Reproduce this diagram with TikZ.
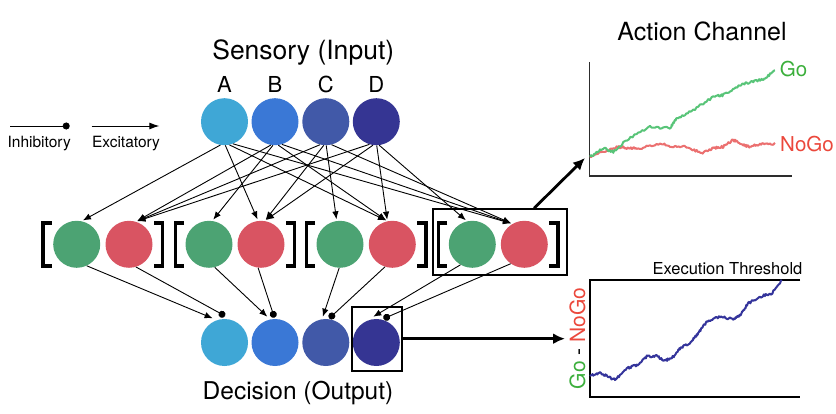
\documentclass[tikz,border=0pt]{standalone}
\usepackage{fontspec}
\setmainfont{TeX Gyre Heros}
\usetikzlibrary{arrows.meta,calc}
\definecolor{cA}{RGB}{63,167,214}
\definecolor{cB}{RGB}{58,120,214}
\definecolor{cC}{RGB}{65,89,168}
\definecolor{cD}{RGB}{53,53,147}
\definecolor{cgo}{RGB}{76,163,115}
\definecolor{cnogo}{RGB}{217,84,98}
\definecolor{trgo}{RGB}{88,196,120}
\definecolor{trnogo}{RGB}{235,112,112}
\definecolor{txgo}{RGB}{60,175,60}
\definecolor{txnogo}{RGB}{235,72,60}
\definecolor{trblue}{RGB}{52,52,155}
\definecolor{axcol}{RGB}{45,45,45}
\newcommand\mktrace[4]{%
  \xdef#1{(#2,#3)}%
  \foreach \xa/\ya [remember=\xa as \xp (initially #2),remember=\ya as \yp (initially #3)] in {#4}{%
    \foreach \k in {1,...,12}{%
      \pgfmathsetmacro\tx{\xp+(\xa-\xp)*\k/12}%
      \pgfmathsetmacro\ty{\yp+(\ya-\yp)*\k/12+1.2*rand}%
      \xdef#1{#1 (\tx,\ty)}%
    }%
  }%
}
\begin{document}
\begin{tikzpicture}[x=1pt,y=-1pt,
  unit/.style={circle,minimum size=47pt,inner sep=0pt,draw=none},
  exc/.style={-{Latex[length=8pt,width=6.5pt]},line width=0.9pt,shorten >=1.5pt},
  inh/.style={-{Circle[length=7pt]},line width=0.9pt,shorten >=-3.5pt},
  bracketline/.style={line width=3.6pt},
  hlbox/.style={draw,line width=2pt,inner sep=0pt},
  bigarrow/.style={-{Latex[length=12pt,width=11pt]},line width=2.8pt},
  lbl/.style={inner sep=0pt},
  axline/.style={draw=axcol,line width=1.6pt},
  gotr/.style={draw=trgo,line width=2pt,line join=round},
  nogotr/.style={draw=trnogo,line width=2pt,line join=round},
  bluetr/.style={draw=trblue,line width=2pt,line join=round},
]
\useasboundingbox (0,0) rectangle (836,414);

% titles
\node[lbl,font=\fontsize{26.5}{30}\selectfont] (tin) at (303.3,52) {Sensory (Input)};
\node[lbl,font=\fontsize{24.5}{28}\selectfont] (tout) at (298,393) {Decision (Output)};
\node[lbl,font=\fontsize{25}{28}\selectfont] (tact) at (702,31) {Action Channel};

% input layer
\node[unit,fill=cA] (A) at (224.5,121.7) {};
\node[unit,fill=cB] (B) at (275,121.7) {};
\node[unit,fill=cC] (C) at (325.8,121.7) {};
\node[unit,fill=cD] (D) at (376.3,121.7) {};
\foreach \n in {A,B,C,D}
  \node[lbl,font=\fontsize{22}{24}\selectfont] (l\n) at ($(\n)+(0,-37)$) {\n};

% middle layer
\node[unit,fill=cgo] (g1) at (76.7,244.3) {};
\node[unit,fill=cnogo] (r1) at (129,244.3) {};
\node[unit,fill=cgo] (g2) at (209,244.3) {};
\node[unit,fill=cnogo] (r2) at (261,244.3) {};
\node[unit,fill=cgo] (g3) at (340,244.3) {};
\node[unit,fill=cnogo] (r3) at (392.3,244.3) {};
\node[unit,fill=cgo] (g4) at (472.3,244.3) {};
\node[unit,fill=cnogo] (r4) at (524.3,244.3) {};

\foreach \k in {1,2,3,4}{
  \draw[bracketline] ($(g\k)+(-25,-21.5)$) -- ($(g\k)+(-33.7,-21.5)$) -- ($(g\k)+(-33.7,21.7)$) -- ($(g\k)+(-25,21.7)$);
  \draw[bracketline] ($(r\k)+(25,-21.5)$) -- ($(r\k)+(33.5,-21.5)$) -- ($(r\k)+(33.5,21.7)$) -- ($(r\k)+(25,21.7)$);
}

% output layer
\node[unit,fill=cA] (o1) at (224.5,342.5) {};
\node[unit,fill=cB] (o2) at (275,342.5) {};
\node[unit,fill=cC] (o3) at (325.8,342.5) {};
\node[unit,fill=cD] (o4) at (376.3,342.5) {};

% highlight boxes
\node[hlbox,minimum width=134pt,minimum height=66pt] (box4) at (499.7,242.2) {};
\node[hlbox,minimum width=50.6pt,minimum height=64pt] (boxo) at (377,338.7) {};

% input -> middle
\draw[exc] (A.260) -- (g1.78);
\draw[exc] (A.272) -- (r2.97);
\draw[exc] (A.282) -- (r3.102);
\draw[exc] (A.291) -- (r4.120);
\draw[exc] (B.260) -- (r1.73);
\draw[exc] (B.265) -- (g2.82);
\draw[exc] (B.278) -- (r3.102);
\draw[exc] (B.287) -- (r4.120);
\draw[exc] (C.256) -- (r1.73);
\draw[exc] (C.265) -- (r2.81);
\draw[exc] (C.271) -- (g3.98);
\draw[exc] (C.284) -- (r4.120);
\draw[exc] (D.253) -- (r1.73);
\draw[exc] (D.262) -- (r2.81);
\draw[exc] (D.271) -- (r3.102);
\draw[exc] (D.277) -- (g4.103);

% middle -> output
\coordinate (o1e) at ($(o1)+(-11.9,-24.2)$);
\coordinate (o1i) at ($(o1)+(-2.5,-28.2)$);
\coordinate (o2e) at ($(o2)+(-7.7,-25.8)$);
\coordinate (o2i) at ($(o2)+(-1.7,-28.2)$);
\coordinate (o3e) at ($(o3)+(-3,-25.8)$);
\coordinate (o3i) at ($(o3)+(6,-26.5)$);
\coordinate (o4e) at ($(o4)+(-3,-25.8)$);
\coordinate (o4i) at ($(o4)+(10.4,-25.2)$);
\draw[exc,shorten >=0pt] (g1.295) -- (o1e);
\draw[inh] (r1.287) -- (o1i);
\draw[exc,shorten >=0pt] (g2.284) -- (o2e);
\draw[inh] (r2.263) -- (o2i);
\draw[exc,shorten >=0pt] (g3.268) -- (o3e);
\draw[inh] (r3.252) -- (o3i);
\draw[exc,shorten >=0pt] (g4.240) -- (o4e);
\draw[inh] (r4.235) -- (o4i);

% legend
\coordinate (ia) at (10,126);
\coordinate (ib) at (66,126);
\coordinate (ea) at (91.7,126);
\coordinate (eb) at (159.3,126);
\draw[inh,shorten >=-3.7pt] (ia) -- (ib);
\draw[-{Latex[length=10pt,width=7pt]},line width=0.9pt] (ea) -- (eb);
\node[lbl,font=\fontsize{15.5}{18}\selectfont] (tinh) at (39.2,143.5) {Inhibitory};
\node[lbl,font=\fontsize{15.5}{18}\selectfont] (texc) at (126,143.5) {Excitatory};

% action channel plot
\coordinate (axtop) at (589.3,62);
\coordinate (axorg) at (589.3,176);
\coordinate (axend) at (792,176);
\draw[axline] (axtop) -- (axorg) -- (axend);
\pgfmathsetseed{11}
\mktrace{\nogolist}{590}{156.7}{603.3/151.7, 616.7/146.7, 630/148.3, 640/148.3, 660/143.3, 673.3/146.7, 686.7/146.7, 701.7/153.3, 713.3/148.3, 723.3/146.7, 733.3/140, 743.3/145, 750/146.7, 763.3/143.3, 775/144}
\mktrace{\golist}{590}{156.7}{603.3/148.3, 613.3/151.7, 626.7/140, 650/126.7, 670/128.3, 676.7/118.3, 693.3/110, 713.3/96.7, 723.3/95, 740/85, 753.3/81.7, 763.3/79.3, 775/70.7}
\mktrace{\bluelist}{590}{376}{600/372.7, 606.7/376, 615/380, 626.7/368.3, 636.7/365, 646.7/356.7, 656.7/356, 665/361, 673.3/356.7, 680/348.3, 690/343.3, 698.3/333.3, 706.7/321.7, 720/316.7, 733.3/319.3, 740/315, 748.3/303.3, 760/296.7, 771.7/293.3, 781.7/280.7}
\edef\mydrawcmd{\noexpand\draw[nogotr] plot coordinates {\nogolist};}\mydrawcmd
\edef\mydrawcmd{\noexpand\draw[gotr] plot coordinates {\golist};}\mydrawcmd
\node[lbl,text=txgo,font=\fontsize{20.5}{24}\selectfont] (lgo) at (793.5,69) {Go};
\node[lbl,text=txnogo,font=\fontsize{20.5}{24}\selectfont] (lnogo) at (807,144.2) {NoGo};

% execution threshold plot
\coordinate (etr) at (800,280);
\coordinate (etl) at (590,280);
\coordinate (ebl) at (590,397);
\coordinate (ebr) at (800,397);
\draw[axline,draw=black] (etr) -- (etl) -- (ebl) -- (ebr);
\edef\mydrawcmd{\noexpand\draw[bluetr] plot coordinates {\bluelist};}\mydrawcmd
\node[lbl,font=\fontsize{16.5}{19}\selectfont] (lthr) at (727.5,269) {Execution Threshold};
\node[lbl,rotate=90,font=\fontsize{21}{24}\selectfont] (lgmn) at (577.5,338.5) {\textcolor{txgo}{Go} - \textcolor{txnogo}{NoGo}};

% big arrows
\coordinate (acttarget) at (585,158);
\coordinate (exetarget) at (565,338.7);
\draw[bigarrow] (box4) -- (acttarget);
\draw[bigarrow] (boxo) -- (exetarget);
\end{tikzpicture}
\end{document}
